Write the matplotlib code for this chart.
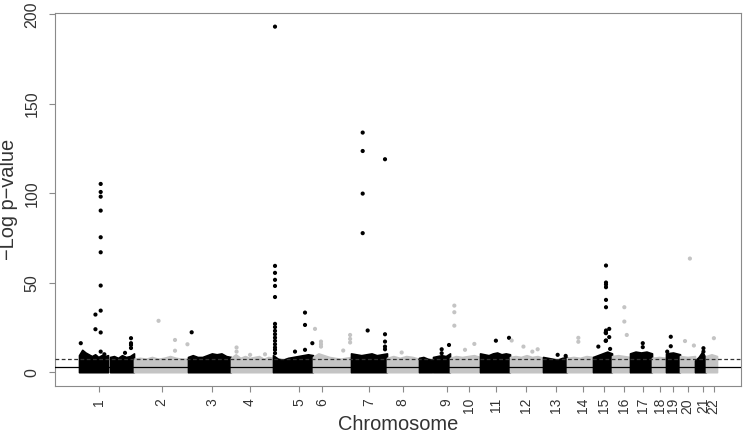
import matplotlib
matplotlib.use("Agg")
import matplotlib.pyplot as plt
import numpy as np

plt.rcParams['font.family'] = ['Liberation Sans', 'DejaVu Sans']

# ---------------- data ----------------
chrom_labels = [str(i) for i in range(1, 23)]
tick_pos = [91, 372, 600, 770, 991, 1095, 1305, 1457, 1655, 1756, 1875, 2010,
            2146, 2267, 2364, 2454, 2539, 2614, 2674, 2739, 2809, 2856]

# dense band of non-significant SNPs: segments (chromosome, start, end) and upper envelope
band_chrom = [1, 1, 2, 3, 4, 5, 6, 7, 8, 9, 9, 10, 11, 12, 13, 14, 15, 16, 17, 18, 19, 20, 21, 22]
band_start = [0, 139.5, 247.5, 490.5, 684, 873, 1053, 1224, 1386, 1530, 1593, 1669.5, 1804.5,
              1939.5, 2088, 2196, 2313, 2398.5, 2479.5, 2578.5, 2641.5, 2704.5, 2772, 2821.5]
band_end = [130.5, 247.5, 490.5, 684, 873, 1053, 1224, 1386, 1530, 1588.5, 1669.5, 1804.5, 1939.5,
            2088, 2196, 2313, 2398.5, 2479.5, 2578.5, 2641.5, 2704.5, 2772, 2821.5, 2871]
band_top = [
    [9.5, 12.5, 11, 10, 9, 10, 8.5, 9.5, 9, 9.5],
    [8.5, 9, 8, 9.5, 8.5, 9, 10.5],
    [7.5, 8, 7.5, 8.5, 7.5, 8, 9, 8, 7.5, 7.5],
    [8.5, 9.5, 8.5, 8.5, 9.5, 10.5, 10, 10.5, 9, 8.5],
    [8, 10, 8, 9, 8, 8.5, 9, 7.5, 8.5, 8],
    [9.5, 7.5, 7, 8, 8.5, 9, 9.5, 10, 9.5],
    [8.5, 10.5, 9.5, 8.5, 8, 7.5, 8, 8.5],
    [10.5, 10, 9.5, 10, 10.5, 9.5, 10, 10.5],
    [8, 9, 8, 9, 8.5, 7.5],
    [8, 8.5, 7.5, 7],
    [8.5, 9, 9.5, 9, 10.5],
    [8, 9, 8.5, 9, 9.5, 8.5],
    [10.5, 10, 9.5, 10.5, 11, 10, 10.5, 10],
    [8.5, 9, 8.5, 9.5, 8.5, 9, 8],
    [8.5, 8, 7.5, 7, 8, 8.5],
    [8, 8.5, 8, 9, 8.5],
    [8.5, 9.5, 10.5, 11.5, 10.5],
    [9, 9.5, 9, 8.5],
    [10.5, 11.5, 11, 11.5, 10.5],
    [8, 8.5, 8],
    [10.5, 11, 10],
    [9, 8.5, 9],
    [6.5, 8.5, 11.5, 7.5],
    [9, 10, 9],
]

# individual SNPs above the band
snp_chrom = ([1] * 19 + [2] * 4 + [3] + [4] * 4 + [5] * 21 + [6] * 8 + [7] * 10 + [8] + [9] * 3
             + [10] * 5 + [11] * 2 + [12] * 4 + [13] * 2 + [14] * 2 + [15] * 15 + [16] * 3
             + [17] * 2 + [19] * 3 + [20] * 3 + [21] * 2 + [22])
snp_pos = ([97.6] * 10 + [74, 74, 8, 114, 234, 234, 234, 234, 207]
           + [358, 432, 432, 488]
           + [507]
           + [709, 709, 770, 837]
           + [882] * 16 + [1017, 1017, 1017, 1050, 972]
           + [1062, 1089, 1089, 1089, 1189, 1220, 1220, 1220]
           + [1276.6, 1276.6, 1276.6, 1276.6, 1299, 1377, 1377, 1377, 1377, 1377]
           + [1452]
           + [1632, 1632, 1665]
           + [1689, 1689, 1689, 1779, 1737]
           + [1876, 1935]
           + [1947, 2000, 2040, 2064]
           + [2154, 2190]
           + [2247, 2247]
           + [2371.5] * 9 + [2386, 2386, 2337, 2370, 2370, 2390]
           + [2454, 2454, 2465]
           + [2537, 2537]
           + [2663, 2663, 2647]
           + [2749, 2727, 2767]
           + [2810, 2810]
           + [2857])
snp_logp = ([105.2, 100.7, 98.1, 90.3, 75.4, 67.0, 48.4, 34.4, 22.2, 11.5,
             32.2, 24.0, 16.2, 10.0, 19.0, 16.2, 15.2, 13.5, 10.8]
            + [28.7, 18.0, 12.0, 15.6]
            + [22.3]
            + [13.8, 11.5, 9.7, 10.0]
            + [193.1, 59.4, 55.5, 51.6, 48.2, 42.0, 27.0, 25.2, 23.1, 21.2, 19.3, 17.5, 15.6,
               13.8, 12.5, 10.6, 33.3, 26.4, 12.5, 16.2, 11.5]
            + [24.2, 17.1, 15.6, 14.3, 12.1, 20.8, 18.6, 16.6]
            + [133.9, 123.6, 99.8, 77.7, 23.3, 119.0, 21.2, 17.1, 14.3, 12.8]
            + [11.0]
            + [12.8, 10.6, 15.2]
            + [37.2, 33.5, 26.0, 15.8, 12.5]
            + [17.6, 19.2]
            + [17.7, 14.3, 11.5, 12.8]
            + [9.7, 9.1]
            + [19.2, 17.0]
            + [59.6, 50.1, 49.0, 47.5, 40.4, 36.3, 23.3, 21.8, 17.7, 24.2, 19.6, 14.3, 22.1,
               17.5, 13.0]
            + [36.3, 28.3, 20.8]
            + [16.2, 14.0]
            + [19.8, 14.5, 11.5]
            + [63.5, 17.4, 14.9]
            + [13.4, 11.5]
            + [19.0])

suggestive_line = 3.0
genomewide_line = 7.3

# ---------------- style ----------------
COL_ODD = '#000000'
COL_EVEN = '#c4c4c4'
FRAME = '#8a8a8a'
TEXT = '#333333'

def chrom_color(c):
    return COL_ODD if c % 2 == 1 else COL_EVEN

fig = plt.figure(figsize=(7.44, 4.33), dpi=100)
ax = fig.add_axes([55 / 744, (433 - 386) / 433, (741 - 55) / 744, (386 - 13) / 433])

for c, s, e, tops in zip(band_chrom, band_start, band_end, band_top):
    xs = np.linspace(s, e, len(tops))
    col = chrom_color(c)
    ax.fill_between(xs, 0, tops, color=col, linewidth=1.2, edgecolor=col, zorder=1)

cols = [chrom_color(c) for c in snp_chrom]
ax.scatter(snp_pos, snp_logp, s=9, c=cols, linewidths=0, zorder=2)

ax.axhline(suggestive_line, color='#000000', linewidth=0.9, zorder=3)
ax.axhline(genomewide_line, color='#333333', linewidth=0.9, dashes=(3, 2), zorder=3)

ax.set_xlim(-108, 2979)
ax.set_ylim(-7.72, 200.72)

ax.set_xticks(tick_pos)
ax.set_xticklabels(chrom_labels, rotation=90, va='top', ha='center')
ax.set_yticks([0, 50, 100, 150, 200])
ax.set_yticklabels(['0', '50', '100', '150', '200'], rotation=90, va='center', ha='right')

ax.tick_params(axis='both', length=4.1, width=0.8, color=FRAME, labelcolor=TEXT)
ax.tick_params(axis='x', pad=4.5, labelsize=10)
ax.tick_params(axis='y', pad=7, labelsize=11.5)
for sp in ax.spines.values():
    sp.set_color(FRAME)
    sp.set_linewidth(0.8)

fig.text(398 / 744, 1 - 424 / 433, 'Chromosome', ha='center', va='center',
         fontsize=14.4, color=TEXT)
fig.text(8.5 / 744, 1 - 199.5 / 433, '\u2212Log p\u2212value', ha='center', va='center',
         rotation=90, fontsize=14.4, color=TEXT)

fig.savefig('out.png', dpi=100)
